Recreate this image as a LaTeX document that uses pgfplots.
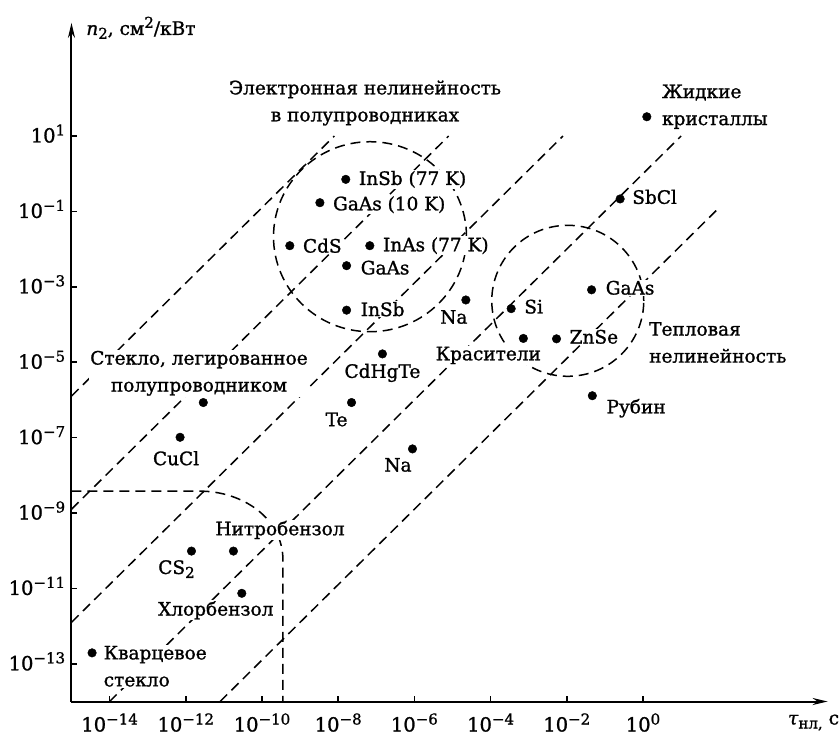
\documentclass[border=0pt]{standalone}
\usepackage{pgfplots}
\pgfplotsset{compat=1.18}
\usepackage{fontspec}
\setmainfont{DejaVu Serif}[FakeBold=1.2]
\usetikzlibrary{arrows.meta}
\newcommand{\sps}[1]{\raisebox{7pt}{\fontsize{15}{15}\selectfont #1}}
\newcommand{\sbs}[1]{\raisebox{-4pt}{\fontsize{15}{15}\selectfont #1}}
\begin{document}
\fontsize{18.5}{27}\selectfont
\begin{tikzpicture}[font=\fontsize{18.5}{27}\selectfont,
  lbl/.style={fill=white, inner sep=1pt},
  dl/.style={dash pattern=on 10pt off 6pt, line width=1.5pt}]
\useasboundingbox (0,0) rectangle (840pt,738pt);
\begin{axis}[
  at={(71.5pt,36.5pt)}, anchor=south west,
  scale only axis, width=756.1pt, height=678.6pt,
  xmode=log, ymode=log,
  xmin=1e-15, xmax=7e4, ymin=1e-14, ymax=1e4,
  axis x line*=bottom, axis y line*=left,
  axis line style={line width=2pt, -{Stealth[length=15pt,width=7pt]}},
  tick align=inside, major tick length=6pt,
  tick style={line width=1.6pt, black},
  minor xtick={}, minor ytick={},
  xtick={1e-14,1e-12,1e-10,1e-8,1e-6,1e-4,1e-2,1},
  xticklabels={10\sps{−14},10\sps{−12},10\sps{−10},10\sps{−8},10\sps{−6},10\sps{−4},10\sps{−2},10\sps{0}},
  ytick={1e-13,1e-11,1e-9,1e-7,1e-5,1e-3,1e-1,10},
  yticklabels={10\sps{−13},10\sps{−11},10\sps{−9},10\sps{−7},10\sps{−5},10\sps{−3},10\sps{−1},10\sps{1}},
  tick label style={font=\fontsize{19.5}{22}\selectfont},
  xticklabel style={anchor=base, yshift=-30pt},
  yticklabel style={anchor=base east, yshift=-6.5pt},
  clip=false,
]
% diagonal dashed lines n2 ~ tau
\draw[dl] (axis cs:1e-15,1.26e-6) -- (axis cs:7.94e-9,10);
\draw[dl] (axis cs:1e-15,1.26e-9) -- (axis cs:7.94e-6,10);
\draw[dl] (axis cs:1e-15,1.26e-12) -- (axis cs:7.94e-3,10);
\draw[dl] (axis cs:1e-14,1e-14) -- (axis cs:10,10);
\draw[dl] (axis cs:7.94e-12,1e-14) -- (axis cs:85,0.107);
% regions
\draw[dl] (axis cs:6.84e-8,2.13e-2) ellipse [x radius=96.5pt, y radius=95pt];
\draw[dl] (axis cs:1.06e-2,4.25e-4) ellipse [x radius=76pt, y radius=75.5pt];
\draw[dl] (axis cs:1e-15,3.8e-9) -- (axis cs:2.35e-12,3.8e-9) to[out=0,in=90] (axis cs:3.55e-10,5.6e-11) -- (axis cs:3.55e-10,1e-14);
% labels
\node[lbl,anchor=west,xshift=12pt] at (axis cs:1.58e-8,0.708) {InSb (77 K)};
\node[lbl,anchor=west,xshift=12pt,yshift=-2pt] at (axis cs:3.31e-9,0.170) {GaAs (10 K)};
\node[lbl,anchor=west,xshift=12pt] at (axis cs:5.37e-10,1.23e-2) {CdS};
\node[lbl,anchor=west,xshift=12pt] at (axis cs:6.76e-8,1.23e-2) {InAs (77 K)};
\node[lbl,anchor=west,xshift=13pt,yshift=-2pt] at (axis cs:1.66e-8,3.63e-3) {GaAs};
\node[lbl,anchor=west,xshift=13pt,yshift=1pt] at (axis cs:1.66e-8,2.40e-4) {InSb};
\node[lbl,xshift=-12pt,yshift=-17pt] at (axis cs:2.24e-5,4.47e-4) {Na};
\node[lbl,anchor=west,xshift=12pt,yshift=2pt] at (axis cs:3.47e-4,2.63e-4) {Si};
\node[lbl,anchor=west,align=left,xshift=14pt,yshift=10pt] at (axis cs:1.26,32.4) {Жидкие\\кристаллы};
\node[lbl,anchor=west,xshift=11pt,yshift=2pt] at (axis cs:0.251,0.214) {SbCl};
\node[lbl,anchor=west,xshift=13pt,yshift=2pt] at (axis cs:4.47e-2,8.32e-4) {GaAs};
\node[lbl,xshift=-35pt,yshift=-17pt] at (axis cs:7.24e-4,4.27e-5) {Красители};
\node[lbl,anchor=west,xshift=12pt,yshift=2pt] at (axis cs:5.37e-3,4.17e-5) {ZnSe};
\node[lbl,anchor=west,xshift=13pt,yshift=-12.5pt] at (axis cs:4.68e-2,1.29e-6) {Рубин};
\node[lbl,anchor=west,align=left] at (axis cs:1.35,3.33e-5) {Тепловая\\нелинейность};
\node[lbl,yshift=-19pt] at (axis cs:1.45e-7,1.66e-5) {CdHgTe};
\node[lbl,xshift=-15pt,yshift=-17pt] at (axis cs:2.24e-8,8.51e-7) {Te};
\node[lbl,xshift=-14.5pt,yshift=-16pt] at (axis cs:8.91e-7,5.01e-8) {Na};
\node[lbl,align=center] at (axis cs:2.22e-12,5.08e-6) {Стекло, легированное\\полупроводником};
\node[lbl,xshift=-4pt,yshift=-21pt] at (axis cs:7.08e-13,1.02e-7) {CuCl};
\node[lbl] at (axis cs:2.97e-10,3.55e-10) {Нитробензол};
\node[lbl,xshift=-15pt,yshift=-18pt] at (axis cs:1.41e-12,9.77e-11) {CS\sbs{2}};
\node[lbl,xshift=-26pt,yshift=-17pt] at (axis cs:2.95e-11,7.41e-12) {Хлорбензол};
\node[lbl,anchor=west,align=left,xshift=10.5pt,yshift=-13.4pt] at (axis cs:3.47e-15,1.95e-13) {Кварцевое\\стекло};
\node[align=center] at (axis cs:5.05e-8,75) {Электронная нелинейность\\в полупроводниках};
% axis titles
\node[anchor=base west,xshift=8.5pt,yshift=-12pt] at (rel axis cs:0,1) {\textit{n}\sbs{2}, см\sps{2}/кВт};
\node[anchor=base west,xshift=-46pt,yshift=-23pt] at (rel axis cs:1,0) {\textit{τ}\sbs{нл,}\hspace{6pt}с};
% data points
\addplot[only marks, mark=*, mark size=4.3pt, black] table[row sep=\\] {
x y \\
1.58e-8 0.708 \\
3.31e-9 0.170 \\
5.37e-10 1.23e-2 \\
6.76e-8 1.23e-2 \\
1.66e-8 3.63e-3 \\
1.66e-8 2.40e-4 \\
2.24e-5 4.47e-4 \\
3.47e-4 2.63e-4 \\
1.26 32.4 \\
0.251 0.214 \\
4.47e-2 8.32e-4 \\
7.24e-4 4.27e-5 \\
5.37e-3 4.17e-5 \\
4.68e-2 1.29e-6 \\
1.45e-7 1.66e-5 \\
2.24e-8 8.51e-7 \\
8.91e-7 5.01e-8 \\
2.88e-12 8.51e-7 \\
7.08e-13 1.02e-7 \\
1.41e-12 9.77e-11 \\
1.78e-11 9.77e-11 \\
2.95e-11 7.41e-12 \\
3.47e-15 1.95e-13 \\
};
\end{axis}
\end{tikzpicture}
\end{document}
